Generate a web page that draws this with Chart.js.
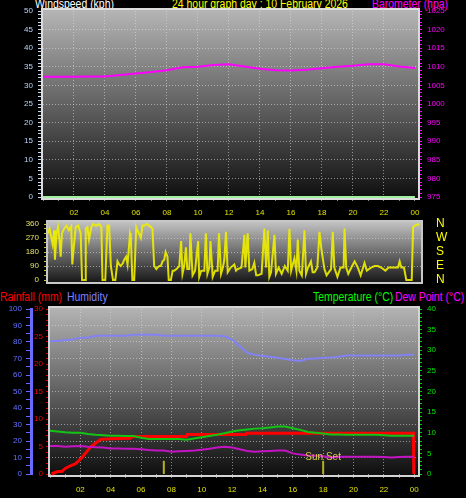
<!DOCTYPE html>
<html>
<head>
<meta charset="utf-8">
<script src="https://cdn.jsdelivr.net/npm/chart.js"></script>
<style>
body{margin:0;background:#000;width:466px;height:498px;overflow:hidden;position:relative;font-family:"Liberation Sans",Arial,sans-serif}
canvas{position:absolute;left:0}
.lbl{position:absolute;font-size:12px;line-height:12px;white-space:nowrap;transform:scaleX(0.87);transform-origin:0 0}
</style>
</head>
<body>
<div class="lbl" style="left:35px;top:-2px;color:#ffffff">Windspeed (kph)</div>
<div class="lbl" style="left:172px;top:-2px;color:#ffff00">24 hour graph day : 10 February 2026</div>
<div class="lbl" style="left:372px;top:-2px;color:#ff00ff">Barometer (hpa)</div>

<div class="lbl" style="left:0px;top:291px;color:#ff0000">Rainfall (mm)</div>
<div class="lbl" style="left:67px;top:291px;color:#8080ff">Humidity</div>
<div class="lbl" style="left:313px;top:291px;color:#00ff00">Temperature (°C)</div>
<div class="lbl" style="left:395px;top:291px;color:#ff00ff">Dew Point (°C)</div>

<canvas id="topChart" width="466" height="222" style="top:0px"></canvas>
<canvas id="dirChart" width="466" height="70" style="top:218px"></canvas>
<canvas id="bottomChart" width="466" height="198" style="top:300px"></canvas>

<script>
// top panel : barometer + wind speed, read hourly
var baroHours = [0,1,2,3,4,5,6,7,8,9,10,11,12,13,14,15,16,17,18,19,20,21,22,23,24]
var baroValues = [1007.3,1007.3,1007.3,1007.4,1007.4,1007.8,1008.2,1008.6,1009.1,1009.9,1010.0,1010.5,
    1010.7,1010.1,1009.5,1009.1,1009.0,1009.2,1009.6,1010.0,1010.3,1010.7,1010.7,1010.1,1009.7]
var windSpeed = [0,0,0,0,0,0,0,0,0,0,0,0,0,0,0,0,0,0,0,0,0,0,0,0,0]

// middle panel : wind direction (degrees)
var windDirHours = [0.0,0.1,0.2,0.3,0.4,0.45,0.55,0.65,0.75,0.82,0.9,1.04,1.2,1.35,1.5,1.57,1.7,1.79,1.95,2.11,
    2.2,2.4,2.44,2.55,2.65,2.8,2.9,3.1,3.3,3.45,3.52,3.7,3.84,3.95,4.06,4.2,4.35,4.49,4.6,4.7,
    4.85,4.92,5.05,5.14,5.3,5.35,5.45,5.57,5.7,5.78,6.0,6.1,6.21,6.4,6.65,6.75,6.86,7.0,7.08,7.2,
    7.29,7.4,7.51,7.6,7.72,7.8,7.94,8.05,8.16,8.3,8.48,8.6,8.69,8.8,8.91,9.0,9.13,9.2,9.34,9.5,
    9.56,9.7,9.77,9.9,10.1,10.2,10.3,10.42,10.5,10.64,10.8,10.96,11.05,11.18,11.3,11.39,11.5,11.61,11.8,12.04,
    12.15,12.25,12.5,12.69,12.75,12.9,13.01,13.2,13.33,13.45,13.55,13.8,13.98,14.09,14.2,14.3,14.41,14.63,14.73,14.9,
    15.1,15.3,15.49,15.6,15.71,15.92,16.05,16.14,16.24,16.4,16.57,16.67,16.8,16.99,17.1,17.22,17.4,17.54,17.65,17.86,
    18.0,18.29,18.4,18.5,18.7,18.9,19.1,19.16,19.27,19.4,19.6,19.81,20.02,20.2,20.45,20.6,20.88,21.1,21.31,21.53,
    21.8,22.0,22.3,22.61,22.72,22.83,23.0,23.15,23.37,23.5,23.59,23.7,24.0]
var windDirValues = [300,330,280,230,320,130,300,340,250,150,300,330,350,320,345,100,250,340,350,300,
    0,0,330,340,260,340,360,350,360,340,0,0,350,350,90,0,0,120,100,90,
    110,130,150,100,300,280,0,0,340,320,270,350,350,360,340,330,90,70,80,90,
    90,120,130,180,150,0,0,60,60,70,90,250,40,90,210,70,70,300,30,60,
    60,250,20,60,60,300,40,80,250,20,60,60,300,40,80,130,310,50,80,100,
    60,70,80,290,80,300,60,70,110,30,30,40,330,80,320,20,50,290,40,80,
    40,90,60,330,60,140,60,260,60,30,320,40,80,120,50,50,80,310,210,70,
    30,70,310,80,20,80,80,330,80,40,80,120,80,30,110,60,80,90,90,80,
    60,80,80,80,120,80,80,0,0,0,340,350,360]

// bottom panel : humidity, temperature, dew point every half hour
var bottomHours = [0,0.5,1,1.5,2,2.5,3,3.5,4,4.5,5,5.5,6,6.5,7,7.5,8,8.5,9,9.5,10,10.5,11,11.5,
    12,12.5,13,13.5,14,14.5,15,15.5,16,16.5,17,17.5,18,18.5,19,19.5,20,20.5,21,21.5,22,22.5,23,23.5,24]
var humidity = [80.6,80.6,81.2,81.5,82.6,82.6,83.8,83.8,83.8,83.8,83.8,84.4,84.4,84.4,84.4,83.8,83.8,83.8,83.8,83.8,
    83.8,83.8,83.8,83.5,81.5,77.5,73.5,72.2,71.6,71.0,70.5,69.7,69.0,68.5,69.8,70.0,70.5,70.6,71.0,71.8,
    71.8,71.8,71.8,71.8,71.8,71.8,71.8,72.2,72.2]
var temperature = [10.5,10.3,10.1,10.0,10.0,9.7,9.5,9.4,9.3,9.3,9.2,9.2,8.8,8.5,8.5,8.5,8.5,8.5,8.3,8.6,
    8.9,9.2,9.5,9.9,10.3,10.6,10.8,11.0,11.1,11.3,11.5,11.5,11.1,10.7,10.2,10.0,9.8,9.6,9.6,9.5,
    9.5,9.5,9.5,9.5,9.4,9.3,9.3,9.3,9.3]
var dewPoint = [6.8,6.8,6.6,6.7,6.8,6.6,6.5,6.4,6.2,6.2,6.1,6.1,6.0,5.8,5.7,5.7,5.4,5.5,5.6,5.7,
    5.9,6.1,6.4,6.6,6.4,6.0,5.6,5.4,5.5,5.6,5.7,5.7,5.0,4.7,4.5,4.4,4.3,4.0,4.2,4.2,
    4.2,4.2,4.2,4.2,4.1,4.0,4.1,4.2,4.2]
var rainHours = [0.1,0.45,0.8,1.0,1.35,1.7,2.0,2.35,2.7,3.0,3.33,4.0,5.3,5.45,9.0,9.05,12.9,12.95,23.95,23.97]
var rainValues = [0,0.4,0.5,1.0,1.5,1.9,2.7,3.8,5.0,5.6,6.3,6.4,6.5,6.8,6.8,7.2,7.2,7.4,7.4,0]
var sunTimes = [7.5, 18]
var sunLabel = 'Sun Set'

Chart.defaults.font.family = '"Liberation Sans", Arial, sans-serif'
Chart.defaults.font.size = 8

function points(xs, ys){
    var result = []
    for(var i = 0; i < xs.length; i++){
        result.push({x: xs[i], y: ys[i]})
    }
    return result
}

function line(label, data, color, width, axis){
    return {label: label, data: data, borderColor: color, borderWidth: width, yAxisID: axis,
        pointRadius: 0, tension: 0, fill: false, clip: false}
}

var gridDots = 'rgba(225,225,225,0.55)'
var none = 'rgba(0,0,0,0)'

// gradient behind the plot and the light frame round it (the frame sits a few px outside the value range)
var panelBackground = {
    id: 'panelBackground',
    beforeDraw: function(chart, args, opts){
        var a = chart.chartArea, c = chart.ctx, gap = opts.gap
        var g = c.createLinearGradient(0, a.top - gap, 0, a.bottom + gap)
        g.addColorStop(0, opts.top)
        g.addColorStop(1, opts.bottom)
        c.save()
        c.fillStyle = g
        c.fillRect(a.left, a.top - gap, a.right - a.left, a.bottom - a.top + 2 * gap)
        c.restore()
    },
    beforeDatasetsDraw: function(chart, args, opts){
        var a = chart.chartArea, c = chart.ctx, gap = opts.gap
        c.save()
        c.strokeStyle = opts.frame
        c.lineWidth = 2
        c.strokeRect(a.left - 1, a.top - gap, a.right - a.left + 2, a.bottom - a.top + 2 * gap)
        c.restore()
    }
}

function hourAxis(max, height){
    return {
        type: 'linear', min: 0, max: max,
        afterFit: function(s){ s.height = height; s.paddingLeft = 0; s.paddingRight = 0 },
        ticks: {stepSize: 1, autoSkip: false, includeBounds: false, maxRotation: 0, padding: 7,
            color: '#e0e000', font: {size: 8},
            callback: function(v){ return (v % 2 === 0 && v > 0) ? String(v % 24).padStart(2, '0') : '' }},
        grid: {color: function(c){ var v = c.tick ? c.tick.value : 0
                return (v % 2 === 0 && v > 0 && v < 24) ? gridDots : none },
            tickColor: '#8a8a8a', tickLength: 4},
        border: {display: false, dash: [1, 2]}
    }
}

function valueAxis(opts){
    return {
        type: 'linear', position: opts.position, min: opts.min, max: opts.max, weight: opts.weight || 0,
        afterFit: function(s){ s.width = opts.width; s.paddingTop = 0; s.paddingBottom = 0 },
        ticks: {stepSize: opts.step, autoSkip: false, padding: opts.padding, color: opts.color,
            font: {size: opts.size || 8},
            callback: opts.callback || function(v){ return v % opts.every === 0 ? v : '' }},
        grid: {drawOnChartArea: !!opts.grid, tickColor: opts.tickColor, tickLength: opts.tickLength,
            drawTicks: opts.tickLength > 0,
            color: function(c){ var v = c.tick ? c.tick.value : 0
                return (opts.grid && v % opts.grid === 0 && v > opts.min && v < opts.max) ? gridDots : none }},
        border: {display: !!opts.border, color: opts.border, width: 3, dash: [1, 2]}
    }
}

var common = {
    responsive: false, animation: false, events: [],
    plugins: {legend: {display: false}, tooltip: {enabled: false}}
}

new Chart(document.getElementById('topChart'), {
    type: 'line',
    data: {datasets: [
        line('Barometer', points(baroHours, baroValues), '#ff00ff', 2, 'yBaro'),
        line('Windspeed', points(baroHours, windSpeed), '#a0f0a0', 2, 'yWind')
    ]},
    options: Object.assign({}, common, {
        layout: {autoPadding: false, padding: {top: 11}},
        plugins: Object.assign({}, common.plugins, {panelBackground: {top: '#b6b6b6', bottom: '#0e0e0e', frame: '#dcdcdc', gap: 2}}),
        scales: {
            x: hourAxis(24.2, 25),
            yWind: valueAxis({position: 'left', min: 0, max: 50, step: 1, every: 5, width: 43, padding: 5,
                color: '#b8d4ff', tickColor: '#c8d8f0', tickLength: 5, grid: 5}),
            yBaro: valueAxis({position: 'right', min: 975, max: 1025, step: 1, every: 5, width: 48, padding: 5,
                color: '#ff00ff', tickColor: '#ff00ff', tickLength: 4})
        }
    }),
    plugins: [panelBackground]
})

var compass = {360: 'N', 270: 'W', 180: 'S', 90: 'E', 0: 'N'}
new Chart(document.getElementById('dirChart'), {
    type: 'line',
    data: {datasets: [
        line('Wind direction', points(windDirHours, windDirValues), 'rgba(240,240,0,0.9)', 2, 'yDir')
    ]},
    options: Object.assign({}, common, {
        layout: {autoPadding: false, padding: {top: 6, bottom: 8}},
        plugins: Object.assign({}, common.plugins, {panelBackground: {top: '#c4c4c4', bottom: '#161616', frame: '#c8c8c8', gap: 3}}),
        scales: {
            x: {type: 'linear', min: 0, max: 24.1, display: false},
            yDir: valueAxis({position: 'left', min: 0, max: 360, step: 30, every: 90, width: 48, padding: 5,
                color: '#e4e464', tickColor: '#c8c830', tickLength: 4, grid: 90}),
            yCompass: valueAxis({position: 'right', min: 0, max: 360, step: 90, width: 45, padding: 15,
                color: '#ffff00', size: 12, tickLength: 0,
                callback: function(v){ return compass[v] }})
        }
    }),
    plugins: [panelBackground]
})

var sunText = {
    id: 'sunText',
    afterDatasetsDraw: function(chart){
        var c = chart.ctx
        c.save()
        c.fillStyle = '#d4c84a'
        c.font = '10px "Liberation Sans", Arial, sans-serif'
        c.textAlign = 'center'
        c.textBaseline = 'middle'
        c.fillText(sunLabel, chart.scales.x.getPixelForValue(sunTimes[1]), chart.scales.yHum.getPixelForValue(10))
        c.restore()
    }
}

var sunSets = []
for(var i = 0; i < sunTimes.length; i++){
    sunSets.push(line('Sun ' + i, points([sunTimes[i], sunTimes[i]], [0, 8]), '#b4b020', 2, 'yHum'))
}

new Chart(document.getElementById('bottomChart'), {
    type: 'line',
    data: {datasets: sunSets.concat([
        line('Humidity', points(bottomHours, humidity), '#8282f4', 2, 'yHum'),
        line('Dew Point', points(bottomHours, dewPoint), '#c414c4', 2, 'yTemp'),
        line('Temperature', points(bottomHours, temperature), '#14c414', 2, 'yTemp'),
        line('Rainfall', points(rainHours, rainValues), '#ff0000', 3, 'yRain')
    ])},
    options: Object.assign({}, common, {
        layout: {autoPadding: false, padding: {top: 9}},
        plugins: Object.assign({}, common.plugins, {panelBackground: {top: '#b4b4b4', bottom: '#0e0e0e', frame: '#d4d4d4', gap: 2}}),
        scales: {
            x: hourAxis(24.25, 24),
            yHum: valueAxis({position: 'left', weight: 1, min: 0, max: 100, step: 5, every: 10, width: 31, padding: 4,
                color: '#6474ff', tickColor: '#6a6aff', tickLength: 5, grid: 10, border: '#6a6aff'}),
            yRain: valueAxis({position: 'left', weight: 0, min: 0, max: 30, step: 1, every: 5, width: 19, padding: 3,
                color: '#ff0000', tickColor: '#e00000', tickLength: 4}),
            yTemp: valueAxis({position: 'right', min: 0, max: 40, step: 1, every: 5, width: 48, padding: 5,
                color: '#00e000', tickColor: '#00d000', tickLength: 4})
        }
    }),
    plugins: [panelBackground, sunText]
})
</script>
</body>
</html>
